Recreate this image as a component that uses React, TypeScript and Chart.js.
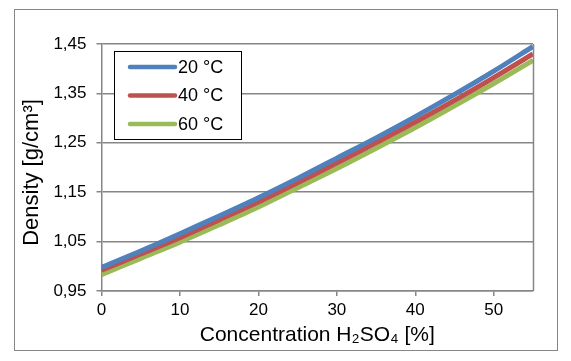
import React, { useEffect, useRef } from "react";
import { Chart, registerables } from "chart.js";

Chart.register(...registerables);

const concentration = [0, 5, 10, 15, 20, 25, 30, 35, 40, 45, 50, 55];
const density20 = [0.998, 1.031, 1.066, 1.102, 1.139, 1.178, 1.219, 1.260, 1.303, 1.348, 1.395, 1.445];
const density40 = [0.992, 1.025, 1.058, 1.094, 1.130, 1.169, 1.209, 1.250, 1.292, 1.336, 1.382, 1.430];
const density60 = [0.983, 1.016, 1.049, 1.084, 1.120, 1.159, 1.198, 1.239, 1.281, 1.325, 1.370, 1.417];
const seriesLabels = ["20 °C", "40 °C", "60 °C"];
const seriesColors = ["#4F81BD", "#C0504D", "#9BBB59"];
const yTicks = [0.95, 1.05, 1.15, 1.25, 1.35, 1.45];
const xTicks = [0, 10, 20, 30, 40, 50];
const yTitle = "Density [g/cm³]";
const xTitle = "Concentration H₂SO₄ [%]";

const FONT = "'Liberation Sans', Arial, 'DejaVu Sans', sans-serif";

const framePlugin = {
  id: "frame",
  beforeDraw(chart: any) {
    const ctx = chart.ctx;
    ctx.save();
    ctx.fillStyle = "#ffffff";
    ctx.fillRect(0, 0, chart.width, chart.height);
    ctx.strokeStyle = "#868686";
    ctx.lineWidth = 1;
    ctx.strokeRect(14.5, 9.5, 543, 341);
    ctx.restore();
  },
  afterDraw(chart: any) {
    const ctx = chart.ctx;
    const a = chart.chartArea;
    ctx.save();
    ctx.strokeStyle = "#868686";
    ctx.lineWidth = 1.5;
    ctx.beginPath();
    ctx.moveTo(Math.round(a.right) + 0.5, a.top);
    ctx.lineTo(Math.round(a.right) + 0.5, a.bottom);
    ctx.stroke();
    // y title
    ctx.save();
    ctx.translate(32, 172.5);
    ctx.rotate(-Math.PI / 2);
    ctx.font = "22px " + FONT;
    ctx.fillStyle = "#000";
    ctx.textAlign = "center";
    ctx.textBaseline = "middle";
    ctx.fillText(yTitle, 0, 0);
    ctx.restore();
    // legend
    const lx = 114.5, ly = 51.5, lw = 127, lh = 88;
    ctx.fillStyle = "#ffffff";
    ctx.fillRect(lx, ly, lw, lh);
    ctx.strokeStyle = "#000000";
    ctx.lineWidth = 1;
    ctx.strokeRect(lx, ly, lw, lh);
    ctx.font = "18px " + FONT;
    ctx.textBaseline = "middle";
    ctx.textAlign = "left";
    chart.data.datasets.forEach((ds: any, i: number) => {
      const y = 67 + i * 28.5;
      ctx.strokeStyle = ds.borderColor;
      ctx.lineWidth = 4.5;
      ctx.lineCap = "round";
      ctx.beginPath();
      ctx.moveTo(130, y);
      ctx.lineTo(175, y);
      ctx.stroke();
      ctx.fillStyle = "#000000";
      ctx.fillText(ds.label, 178, y + 1);
    });
    ctx.restore();
  },
};

export default function App() {
  const ref = useRef<HTMLCanvasElement>(null);
  useEffect(() => {
    document.body.style.margin = "0";
    const values = [density20, density40, density60];
    const chart = new Chart(ref.current!, {
      type: "line",
      data: {
        datasets: values.map((v, i) => ({
          label: seriesLabels[i],
          data: v.map((y, j) => ({ x: concentration[j], y })),
          borderColor: seriesColors[i],
          backgroundColor: seriesColors[i],
          borderWidth: 5,
          pointRadius: 0,
          tension: 0.3,
          order: i,
        })),
      },
      options: {
        animation: false,
        responsive: false,
        maintainAspectRatio: false,
        layout: { padding: { left: 14, top: 44, right: 38, bottom: 10 } },
        plugins: { legend: { display: false }, tooltip: { enabled: false } },
        scales: {
          x: {
            type: "linear",
            min: 0,
            max: 55,
            afterFit: (s: any) => { s.height = 60; },
            afterBuildTicks: (s: any) => { s.ticks = xTicks.map((v) => ({ value: v })); },
            grid: { display: true, drawOnChartArea: false, drawTicks: true, tickLength: 5, color: "#868686", lineWidth: 1.5 },
            border: { display: true, color: "#868686", width: 1.5 },
            ticks: { color: "#000", font: { size: 17, family: FONT }, padding: 4 },
            title: { display: true, text: xTitle, color: "#000", font: { size: 21, family: FONT }, padding: { top: 0, bottom: 3 } },
          },
          y: {
            type: "linear",
            min: 0.95,
            max: 1.45,
            afterFit: (s: any) => { s.width = 87.5; },
            afterBuildTicks: (s: any) => { s.ticks = yTicks.map((v) => ({ value: v })); },
            grid: { display: true, drawTicks: true, tickLength: 5, color: "#868686", lineWidth: 1.5 },
            border: { display: true, color: "#868686", width: 1.5 },
            ticks: {
              color: "#000",
              font: { size: 17, family: FONT },
              padding: 10,
              callback: (v: any) => Number(v).toFixed(2).replace(".", ","),
            },
            title: { display: false, text: yTitle },
          },
        },
      },
      plugins: [framePlugin],
    });
    return () => chart.destroy();
  }, []);
  return (
    <div style={{ position: "absolute", left: 0, top: 0, width: 571, height: 361 }}>
      <canvas ref={ref} width={571} height={361} style={{ width: 571, height: 361 }} />
    </div>
  );
}
